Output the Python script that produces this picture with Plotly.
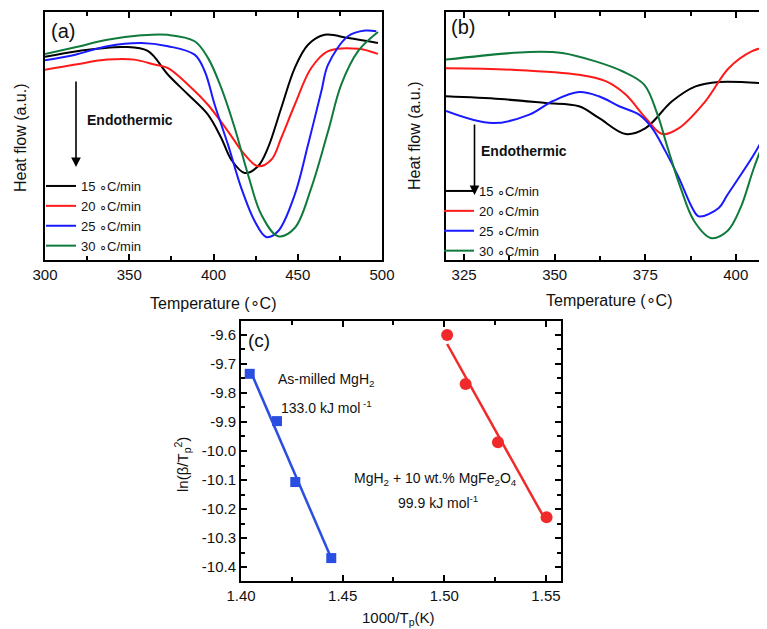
import numpy as np
import plotly.graph_objects as go

# ---------------- data ----------------
rates = ["15 \u2218C/min", "20 \u2218C/min", "25 \u2218C/min", "30 \u2218C/min"]
colors = ["#000000", "#ff1a1a", "#1a1aff", "#0f7a3c"]

# panel (a): as-milled MgH2, heat flow (a.u.)
a15_T = [300, 320, 347, 361, 373, 384.9, 396.7, 404.6, 410.6, 418.5, 426.4, 432.3, 440.2, 448.2, 456.1, 466, 480, 497.6]
a15_H = [8.19, 8.43, 8.59, 8.43, 7.47, 6.67, 5.86, 4.92, 4.04, 3.51, 3.78, 4.52, 6.13, 7.74, 8.68, 9.08, 8.95, 8.75]
a20_T = [300, 318, 337, 353, 365, 373, 384.9, 396.7, 408.6, 418.5, 426.4, 434.3, 440.2, 448.2, 458, 468, 485.8, 497.6]
a20_H = [7.67, 7.88, 8.08, 8.08, 7.88, 7.74, 7.07, 6.26, 5.19, 4.25, 3.78, 4.04, 4.92, 6.26, 7.74, 8.42, 8.52, 8.31]
a25_T = [300, 318, 337, 357, 373, 388.8, 394.8, 400.7, 408.6, 416.5, 424.5, 431.3, 438.3, 448.2, 456.1, 464, 468, 480, 490, 496.6]
a25_H = [8.05, 8.28, 8.62, 8.75, 8.62, 8.28, 7.61, 6.26, 4.65, 2.90, 1.56, 0.93, 1.16, 2.63, 4.65, 6.80, 7.88, 9.03, 9.25, 9.22]
a30_T = [300, 318, 337, 357, 373, 388.8, 396.7, 404.6, 412.6, 420.5, 428.4, 438.3, 448.2, 458, 468, 475.8, 485.8, 497.6]
a30_H = [8.31, 8.58, 8.88, 9.06, 9.08, 8.82, 8.15, 6.94, 5.32, 3.44, 1.83, 0.96, 1.29, 2.90, 5.19, 7.07, 8.42, 9.19]

# panel (b): MgH2 + 10 wt.% MgFe2O4
b15_T = [320, 335, 347.5, 356.7, 362.2, 369.6, 375.1, 382.4, 388.9, 395.3, 410]
b15_H = [6.60, 6.49, 6.33, 6.20, 5.73, 5.08, 5.32, 6.40, 7.00, 7.18, 7.10]
b20_T = [320, 338.4, 356.7, 364.1, 369.6, 375.1, 379.7, 384.3, 391.6, 398.1, 404.5, 410]
b20_H = [7.73, 7.67, 7.47, 7.21, 6.67, 5.73, 5.08, 5.32, 6.40, 7.74, 8.42, 8.64]
b25_T = [320, 332.9, 343, 349.4, 356.7, 362.2, 367.8, 373.3, 376.9, 380.6, 384.3, 388, 389.8, 395.3, 397.7, 405, 410]
b25_H = [6.01, 5.52, 5.86, 6.40, 6.77, 6.60, 6.20, 5.86, 5.32, 4.38, 3.31, 2.10, 1.76, 2.10, 2.63, 4.25, 5.58]
b30_T = [320, 343, 352.1, 361.3, 368.7, 374.7, 378.4, 381.2, 384.8, 388.5, 393.1, 397.7, 401.3, 405, 410]
b30_H = [8.08, 8.39, 8.35, 8.01, 7.61, 7.07, 5.86, 4.52, 2.90, 1.57, 0.89, 1.17, 2.10, 3.71, 5.62]

# panel (c): Kissinger plots
milled_x = [1.4043, 1.4177, 1.4267, 1.4444]
milled_y = [-9.734, -9.897, -10.107, -10.369]
doped_x = [1.5014, 1.5105, 1.5264, 1.5503]
doped_y = [-9.600, -9.769, -9.970, -10.228]

a_ticks = [300, 350, 400, 450, 500]
b_ticks = [325, 350, 375, 400]
c_xticks = [1.40, 1.45, 1.50, 1.55]
c_yticks = [-9.6, -9.7, -9.8, -9.9, -10.0, -10.1, -10.2, -10.3, -10.4]

# ---------------- figure ----------------
W, H = 767, 629
FONT = "Liberation Sans, Arial, sans-serif"

def px(x):
    return x / W

def py(y):
    return 1 - y / H

fig = go.Figure()

a_sets = [(a15_T, a15_H), (a20_T, a20_H), (a25_T, a25_H), (a30_T, a30_H)]
b_sets = [(b15_T, b15_H), (b20_T, b20_H), (b25_T, b25_H), (b30_T, b30_H)]

for (T, Hf), name, c in zip(a_sets, rates, colors):
    fig.add_trace(go.Scatter(x=T, y=Hf, mode="lines", name=name, line=dict(color=c, width=2, shape="spline", smoothing=1.0),
                             xaxis="x", yaxis="y", legend="legend"))
for (T, Hf), name, c in zip(b_sets, rates, colors):
    fig.add_trace(go.Scatter(x=T, y=Hf, mode="lines", name=name, line=dict(color=c, width=2, shape="spline", smoothing=1.0),
                             xaxis="x2", yaxis="y2", legend="legend2"))

# panel (c) fits
for xs, ys, col, sym, size in [(milled_x, milled_y, "#2a4ee0", "square", 10),
                               (doped_x, doped_y, "#f02a2a", "circle", 12)]:
    k, b0 = np.polyfit(xs, ys, 1)
    xf = np.array([min(xs), max(xs)])
    fig.add_trace(go.Scatter(x=xf, y=k * xf + b0, mode="lines", line=dict(color=col, width=2.5),
                             xaxis="x3", yaxis="y3", showlegend=False, hoverinfo="skip"))
    fig.add_trace(go.Scatter(x=xs, y=ys, mode="markers", marker=dict(color=col, symbol=sym, size=size),
                             xaxis="x3", yaxis="y3", showlegend=False))

axis_common = dict(showline=True, linecolor="black", linewidth=2, mirror="ticks", ticks="inside",
                   ticklen=6, tickwidth=1.5, tickcolor="black", showgrid=False, zeroline=False,
                   tickfont=dict(family=FONT, size=15, color="#111"))

fig.update_layout(
    width=W, height=H, margin=dict(l=0, r=0, t=0, b=0, autoexpand=False),
    paper_bgcolor="white", plot_bgcolor="white",
    font=dict(family=FONT, color="#111"),
    xaxis=dict(domain=[px(37), px(374)], range=[300, 500], anchor="y", tickvals=a_ticks,
               minor=dict(dtick=25, tick0=300, ticks="inside", ticklen=4, tickcolor="black"), **axis_common),
    yaxis=dict(domain=[py(252), py(4)], range=[0, 10], anchor="x", showticklabels=False,
               showline=True, linecolor="black", linewidth=2, mirror=True, ticks="", showgrid=False, zeroline=False),
    xaxis2=dict(domain=[px(438), px(764)], range=[320, 410], anchor="y2", tickvals=b_ticks,
                minor=dict(dtick=12.5, tick0=325, ticks="inside", ticklen=4, tickcolor="black"), **axis_common),
    yaxis2=dict(domain=[py(252), py(4)], range=[0, 10], anchor="x2", showticklabels=False,
                showline=True, linecolor="black", linewidth=2, mirror=True, ticks="", showgrid=False, zeroline=False),
    xaxis3=dict(domain=[px(233), px(553)], range=[1.40, 1.5574], anchor="y3", tickvals=c_xticks,
                ticktext=["%.2f" % v for v in c_xticks],
                minor=dict(dtick=0.025, tick0=1.40, ticks="inside", ticklen=4, tickcolor="black"),
                **axis_common),
    yaxis3=dict(domain=[py(573), py(313)], range=[-10.448, -9.552], anchor="x3", tickvals=c_yticks,
                ticktext=["%.1f" % v for v in c_yticks],
                minor=dict(dtick=0.05, tick0=-9.6, ticks="inside", ticklen=4, tickcolor="black"),
                **axis_common),
    legend=dict(x=px(33), y=py(163), xanchor="left", yanchor="top", bgcolor="rgba(0,0,0,0)",
                font=dict(family=FONT, size=13, color="#111"), tracegroupgap=0, itemwidth=30),
    legend2=dict(x=px(431), y=py(168), xanchor="left", yanchor="top", bgcolor="rgba(0,0,0,0)",
                 font=dict(family=FONT, size=13, color="#111"), tracegroupgap=0, itemwidth=30),
)

def ann(x, y, text, size=14, bold=False, angle=0, xanchor="center"):
    if bold:
        text = "<b>" + text + "</b>"
    fig.add_annotation(x=px(x), y=py(y), xref="paper", yref="paper", text=text, showarrow=False,
                       font=dict(family=FONT, size=size, color="#111"), textangle=angle,
                       xanchor=xanchor, yanchor="middle")

# panel labels
ann(55, 23, "(a)", size=20)
ann(455, 19, "(b)", size=20)
ann(251, 332, "(c)", size=19)

# axis titles
ann(205, 295, "Temperature (\u2218C)", size=16)
ann(12, 130, "Heat flow (a.u.)", size=16, angle=-90)
ann(601, 292, "Temperature (\u2218C)", size=16)
ann(407, 128, "Heat flow (a.u.)", size=16, angle=-90)
ann(391, 610, "1000/T<sub>p</sub>(K)", size=15)
ann(174, 457, "ln(\u03b2/T<sub>p</sub><sup>2</sup>)", size=15, angle=-90)

# endothermic labels
ann(122, 112, "Endothermic", size=14, bold=True)
ann(516, 143, "Endothermic", size=14, bold=True)

# arrows
for x0, y0, y1 in [(68, 72, 159), (466.5, 115, 187)]:
    fig.add_annotation(x=px(x0), y=py(y1), xref="paper", yref="paper", ax=0, ay=-(y1 - y0),
                       axref="pixel", ayref="pixel", showarrow=True, arrowhead=2, arrowsize=1.2,
                       arrowwidth=1.6, arrowcolor="black", text="")

# panel (c) texts
ann(318, 372, "As-milled MgH<sub>2</sub>", size=14)
ann(318, 399, "133.0 kJ mol<sup> -1</sup>", size=14)
ann(427, 471, "MgH<sub>2</sub> + 10 wt.% MgFe<sub>2</sub>O<sub>4</sub>", size=14)
ann(430, 494, "99.9 kJ mol<sup>-1</sup>", size=14)

fig.write_html("out.html")
